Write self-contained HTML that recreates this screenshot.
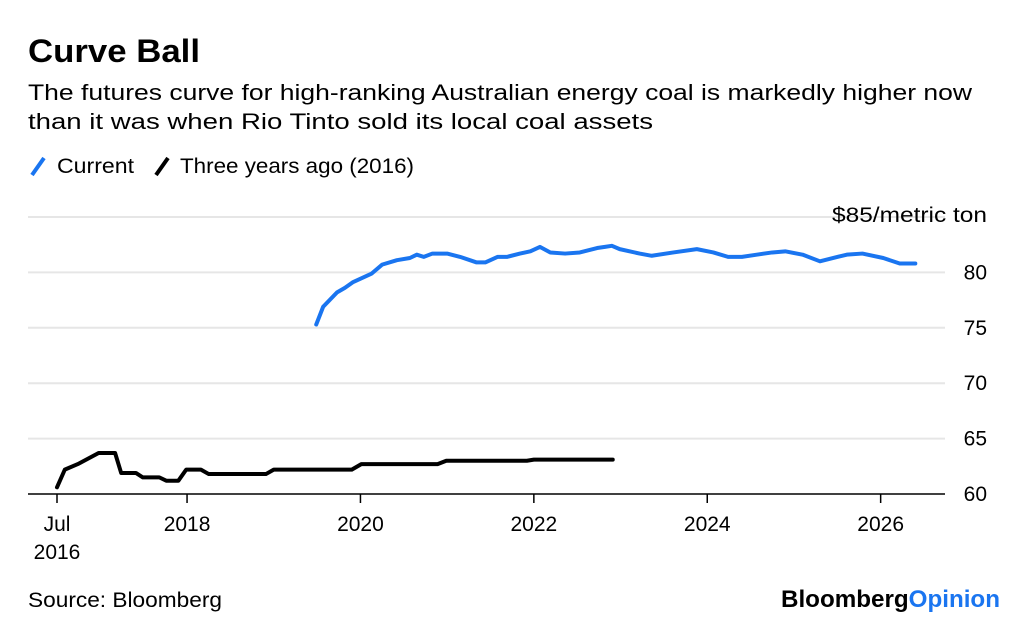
<!DOCTYPE html>
<html><head><meta charset="utf-8"><style>
body{margin:0;background:#fff;font-family:"Liberation Sans",sans-serif;}
svg{display:block}
</style></head><body>
<svg width="1024" height="624" xmlns="http://www.w3.org/2000/svg">
<text x="28" y="62" font-size="32" font-weight="bold" fill="#000" textLength="172" lengthAdjust="spacingAndGlyphs">Curve Ball</text>
<text x="28" y="100" font-size="22" fill="#000" textLength="944" lengthAdjust="spacingAndGlyphs">The futures curve for high-ranking Australian energy coal is markedly higher now</text>
<text x="28" y="129" font-size="22" fill="#000" textLength="625" lengthAdjust="spacingAndGlyphs">than it was when Rio Tinto sold its local coal assets</text>
<g>
<line x1="32" y1="175" x2="44" y2="158" stroke="#1a75f0" stroke-width="4"/>
<text x="57" y="173" font-size="21" textLength="77" lengthAdjust="spacingAndGlyphs">Current</text>
<line x1="156" y1="175" x2="168" y2="158" stroke="#000" stroke-width="4"/>
<text x="180" y="173" font-size="21" textLength="234" lengthAdjust="spacingAndGlyphs">Three years ago (2016)</text>
</g>
<g id="grid"></g><g id="xaxis"></g><g id="series"></g>
<text x="28" y="607" font-size="21" textLength="194" lengthAdjust="spacingAndGlyphs">Source: Bloomberg</text>
<text x="781" y="607" font-size="24" font-weight="bold" textLength="219" lengthAdjust="spacingAndGlyphs">Bloomberg<tspan fill="#1a75f0">Opinion</tspan></text>
</svg>
<script>
const yTicks=[60,65,70,75,80,85];
const yTickLabels=["60","65","70","75","80","$85/metric ton"];
const xTicks=[2016.5,2018,2020,2022,2024,2026];
const xTickLabels=["Jul","2018","2020","2022","2024","2026"];
const currentDates=[2019.49,2019.57,2019.73,2019.82,2019.91,2020.13,2020.25,2020.42,2020.57,2020.65,2020.73,2020.83,2021.00,2021.15,2021.34,2021.44,2021.58,2021.69,2021.84,2021.96,2022.07,2022.19,2022.36,2022.53,2022.73,2022.82,2022.90,2022.99,2023.22,2023.36,2023.61,2023.88,2024.07,2024.24,2024.40,2024.57,2024.75,2024.90,2025.10,2025.30,2025.50,2025.61,2025.79,2026.03,2026.22,2026.40];
const currentValues=[75.3,76.9,78.2,78.6,79.1,79.9,80.7,81.1,81.3,81.6,81.4,81.7,81.7,81.4,80.9,80.9,81.4,81.4,81.7,81.9,82.3,81.8,81.7,81.8,82.2,82.3,82.4,82.1,81.7,81.5,81.8,82.1,81.8,81.4,81.4,81.6,81.8,81.9,81.6,81.0,81.4,81.6,81.7,81.3,80.8,80.8];
const pastDates=[2016.5,2016.59,2016.74,2016.98,2017.17,2017.24,2017.41,2017.49,2017.68,2017.76,2017.90,2017.99,2018.16,2018.25,2018.91,2019.00,2019.90,2020.01,2020.89,2020.99,2021.92,2022.00,2022.91];
const pastValues=[60.6,62.2,62.7,63.7,63.7,61.9,61.9,61.5,61.5,61.2,61.2,62.2,62.2,61.8,61.8,62.2,62.2,62.7,62.7,63.0,63.0,63.1,63.1];
const X=t=>57+(t-2016.5)*86.7;
const Y=v=>494-(v-60)*11.08;
const NS="http://www.w3.org/2000/svg";
function mk(tag,attrs,parent,text){const e=document.createElementNS(NS,tag);for(const k in attrs)e.setAttribute(k,attrs[k]);if(text!==undefined)e.textContent=text;parent.appendChild(e);return e;}
const grid=document.getElementById('grid');
yTicks.forEach((v,i)=>{
  const l=mk('line',{x1:28,x2:945,y1:Y(v),y2:Y(v),stroke:v===60?'#000':'#e6e6e6','stroke-width':v===60?1.5:2},grid);
  
  
  const attrs={x:987,y:Y(v)+(v===85?5:7),'font-size':21,'text-anchor':'end'};
  if(v===85){attrs.textLength=155;attrs.lengthAdjust='spacingAndGlyphs';}
  const t=mk('text',attrs,grid,yTickLabels[i]);
  
  
});
const xa=document.getElementById('xaxis');
xTicks.forEach((t,i)=>{
  const l=mk('line',{x1:X(t),x2:X(t),y1:494,y2:503,stroke:'#000','stroke-width':1.5},xa);
  
  
  const tx=mk('text',{x:X(t),y:531,'font-size':21,'text-anchor':'middle'},xa,xTickLabels[i]);
  
  
});
const yr=mk('text',{x:X(2016.5),y:559,'font-size':21,'text-anchor':'middle'},xa,'2016');


const s=document.getElementById('series');
function line(d,v,color,name){
  const p=mk('polyline',{points:d.map((t,i)=>X(t)+','+Y(v[i])).join(' '),fill:'none',stroke:color,'stroke-width':4,'stroke-linejoin':'round','stroke-linecap':'round'},s);
  
  
}
line(pastDates,pastValues,'#000','line-three-years-ago');
line(currentDates,currentValues,'#1a75f0','line-current');
</script>
</body></html>
